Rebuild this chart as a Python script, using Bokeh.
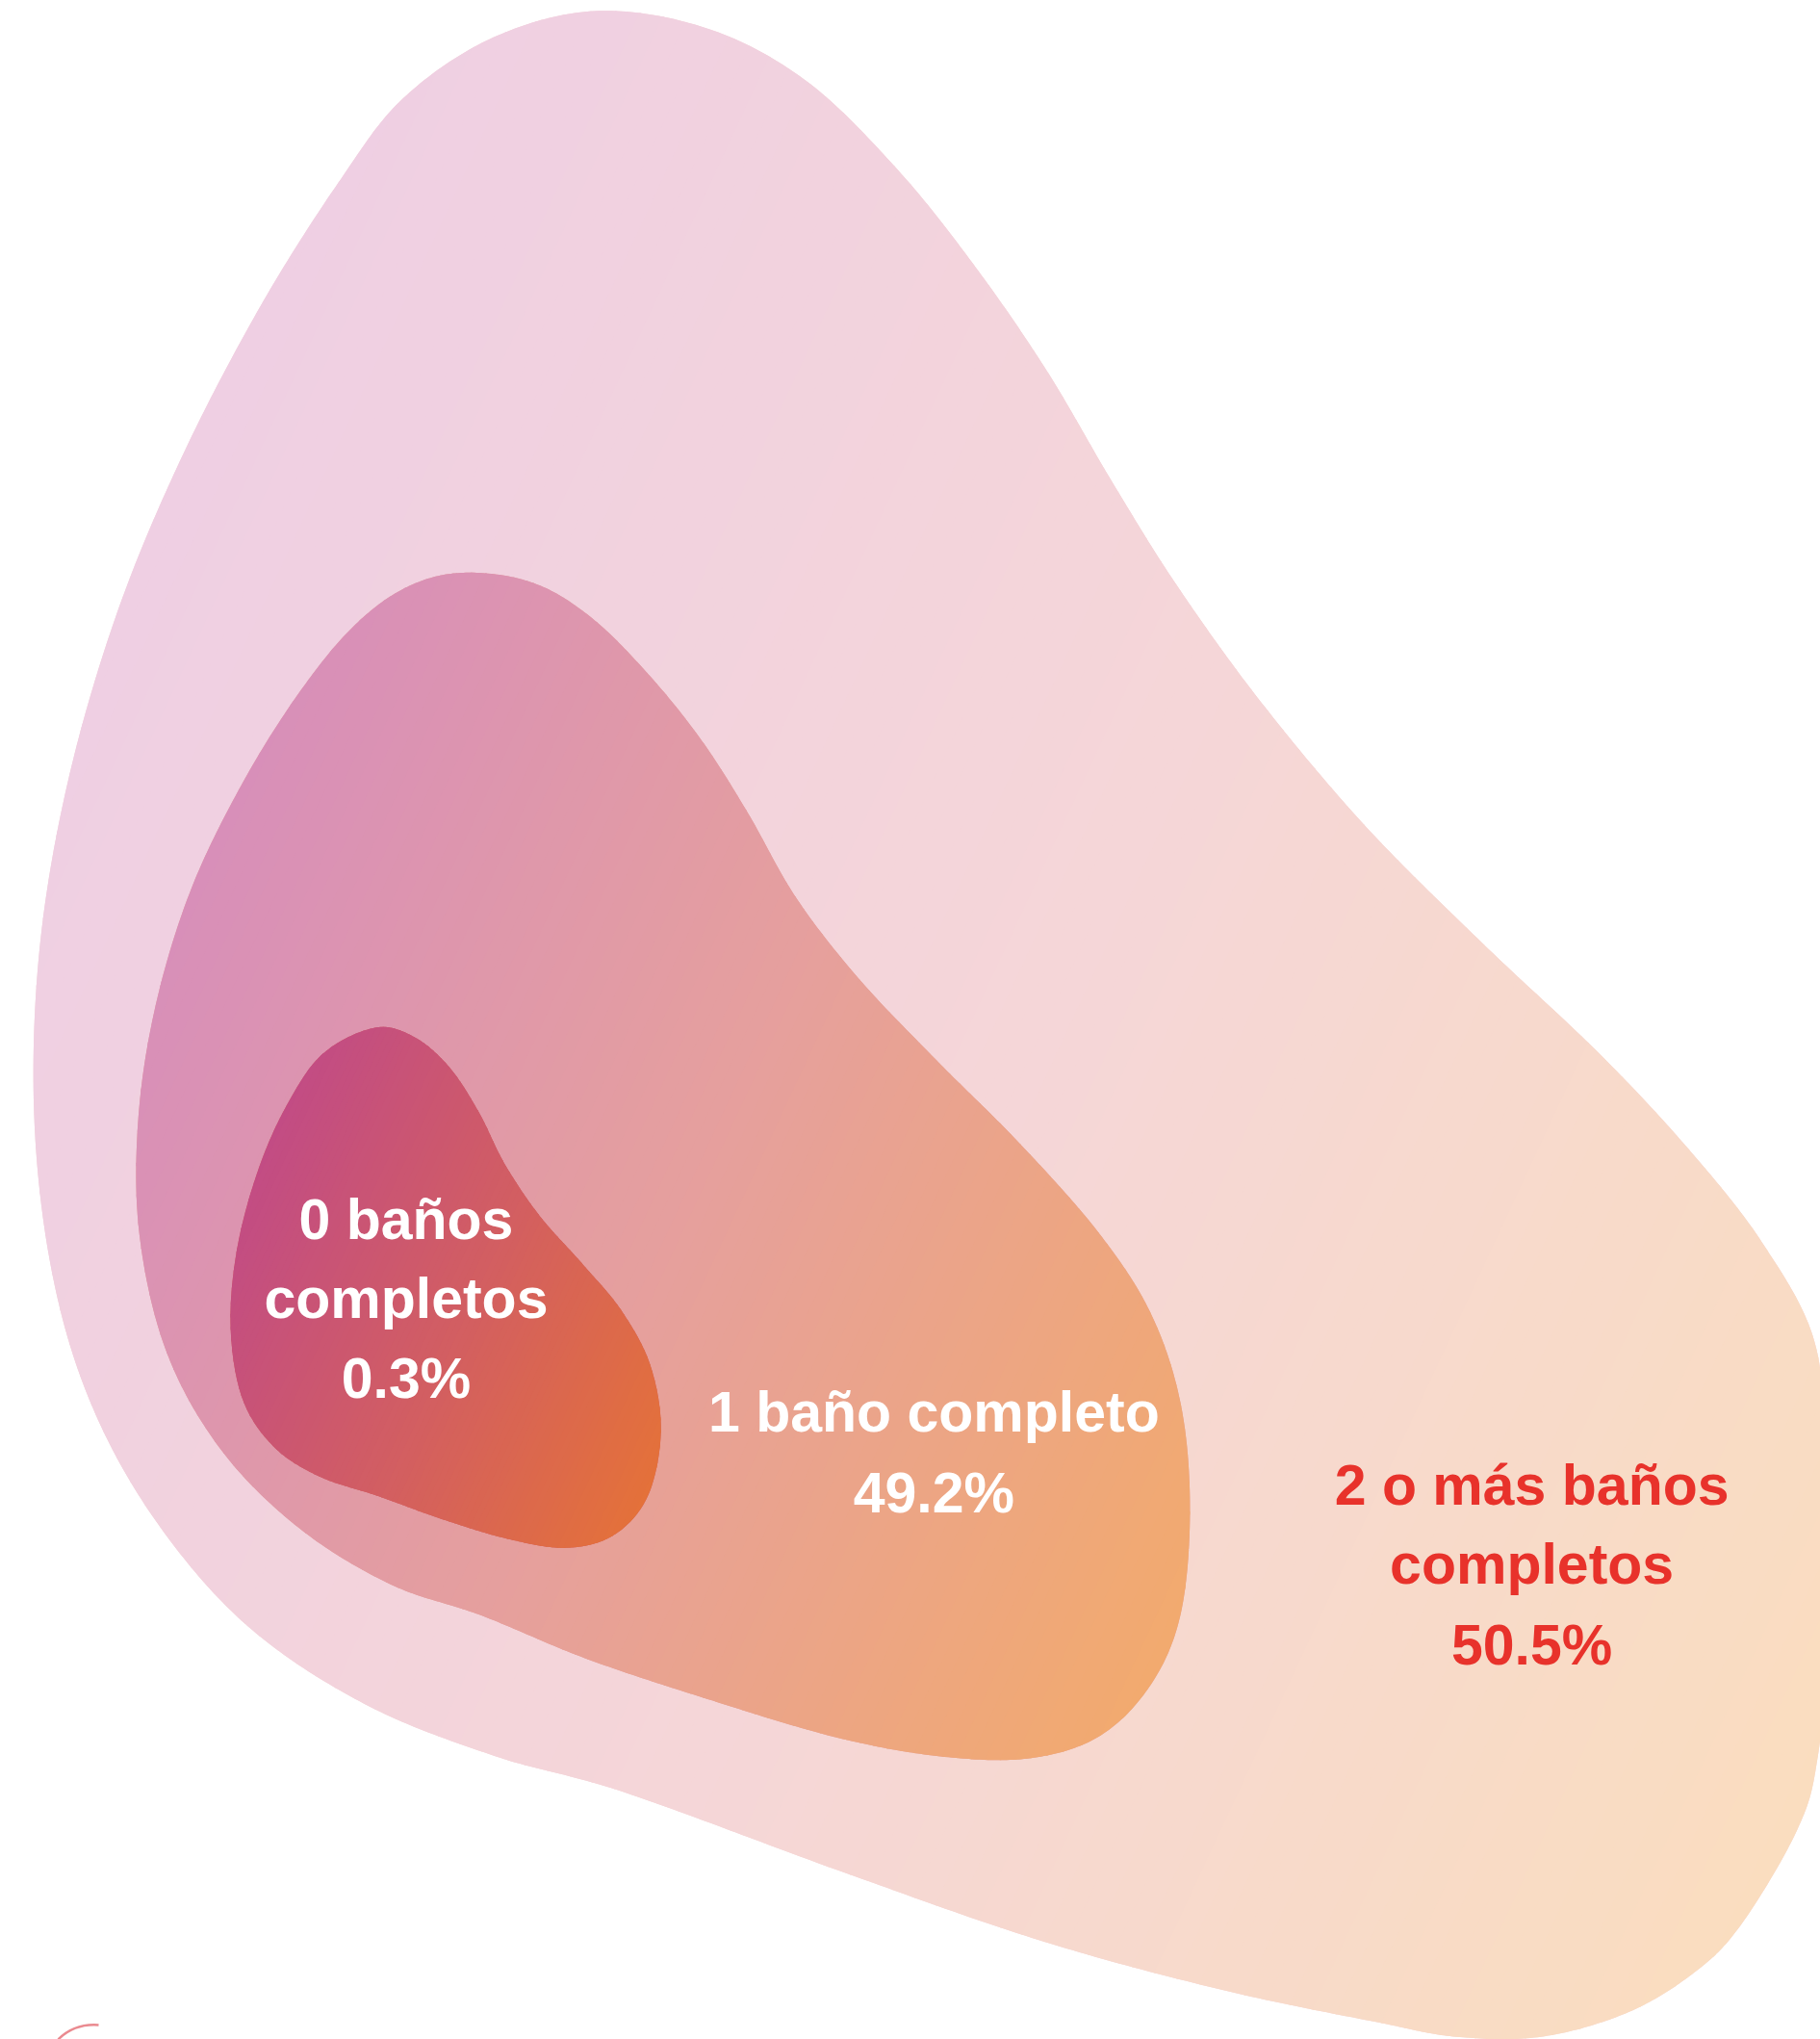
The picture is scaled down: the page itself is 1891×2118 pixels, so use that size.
import numpy as np
from bokeh.plotting import figure
from bokeh.models import Range1d, ColumnDataSource
from bokeh.core.properties import value
from bokeh.embed import file_html
from bokeh.resources import INLINE

# ---------------- data ----------------
categories = ["0 baños completos", "1 baño completo", "2 o más baños completos"]
shares = [0.3, 49.2, 50.5]
label_lines = [["0 baños", "completos"], ["1 baño completo"], ["2 o más baños", "completos"]]

# ---------------- shapes (outline control points, reference layout units) ----------------
S = 1891.0 / 1400.0
outer_pts = [(460, 8), (545, 22), (620, 62), (690, 130), (750, 205), (805, 285), (855, 370),
             (905, 450), (970, 540), (1050, 635), (1140, 725), (1230, 810), (1300, 885),
             (1355, 955), (1395, 1030), (1404, 1120), (1408, 1240), (1398, 1350), (1382, 1407),
             (1338, 1481), (1301, 1518), (1250, 1548), (1185, 1566), (1120, 1566), (1060, 1555),
             (940, 1530), (800, 1492), (650, 1440), (480, 1378), (380, 1350), (280, 1310),
             (190, 1250), (120, 1170), (70, 1080), (40, 980), (26, 860), (30, 730), (52, 600),
             (90, 470), (140, 350), (200, 235), (260, 140), (310, 75), (380, 28)]
middle_pts = [(358, 440), (410, 448), (455, 475), (500, 520), (540, 570), (575, 625), (612, 690),
              (660, 752), (720, 815), (785, 880), (845, 948), (885, 1010), (908, 1080), (915, 1160),
              (908, 1240), (885, 1295), (845, 1335), (790, 1352), (720, 1350), (640, 1335),
              (540, 1305), (450, 1275), (370, 1242), (300, 1218), (230, 1175), (170, 1115),
              (128, 1040), (107, 950), (106, 860), (120, 770), (148, 680), (190, 595), (235, 525),
              (275, 478), (315, 450)]
inner_pts = [(288, 790), (318, 797), (345, 820), (368, 855), (388, 895), (415, 935), (448, 972),
             (478, 1008), (500, 1050), (508, 1100), (498, 1150), (472, 1180), (435, 1190),
             (390, 1183), (340, 1168), (290, 1150), (245, 1135), (210, 1112), (186, 1075),
             (177, 1020), (182, 960), (198, 900), (220, 850), (248, 810)]

outer_stops = ["#EFCFE3", "#F5D6D8", "#FADDBF"]
middle_stops = ["#D88FB9", "#E6A09C", "#F2AA6E"]
inner_stops = ["#C24C84", "#D25E62", "#E4713A"]

label_pos = [(312, [938, 998, 1060]), (718, [1086, 1148]), (1178, [1142, 1203, 1265])]
label_colors = ["#FFFFFF", "#FFFFFF", "#E8322B"]


def smooth(points, n=24):
    P = np.array(points, float) * S
    N = len(P)
    t = np.linspace(0, 1, n, endpoint=False)[:, None]
    segs = []
    for i in range(N):
        p0, p1, p2, p3 = P[i - 1], P[i], P[(i + 1) % N], P[(i + 2) % N]
        segs.append(0.5 * (2 * p1 + (-p0 + p2) * t + (2 * p0 - 5 * p1 + 4 * p2 - p3) * t ** 2
                           + (-p0 + 3 * p1 - 3 * p2 + p3) * t ** 3))
    return np.vstack(segs)


def clip(poly, a, b, c):
    if len(poly) == 0:
        return poly
    f = poly @ np.array([a, b]) - c
    res = []
    n = len(poly)
    for i in range(n):
        P, Q = poly[i - 1], poly[i]
        fP, fQ = f[i - 1], f[i]
        if fQ <= 0:
            if fP > 0:
                res.append(P + (Q - P) * fP / (fP - fQ))
            res.append(Q)
        elif fP <= 0:
            res.append(P + (Q - P) * fP / (fP - fQ))
    return np.array(res)


def hex2rgb(h):
    h = h.lstrip("#")
    return [int(h[i:i + 2], 16) for i in (0, 2, 4)]


def interp_color(stops, f):
    pos = np.linspace(0, 1, len(stops))
    rgb = np.array([hex2rgb(s) for s in stops], float)
    c = [int(round(np.interp(f, pos, rgb[:, k]))) for k in range(3)]
    return "#%02x%02x%02x" % tuple(c)


def gradient_strips(poly, stops, angle_deg=25, nb=90):
    th = np.radians(angle_deg)
    dx, dy = np.cos(th), np.sin(th)
    t = poly @ np.array([dx, dy])
    tmin, tmax = t.min(), t.max()
    w = (tmax - tmin) / nb
    xs, ys, cols = [], [], []
    for k in range(nb):
        t0 = tmin + k * w
        t1 = t0 + w + 1.5
        piece = clip(poly, -dx, -dy, -t0)
        piece = clip(piece, dx, dy, t1)
        if len(piece) < 3:
            continue
        xs.append(piece[:, 0].tolist())
        ys.append(piece[:, 1].tolist())
        cols.append(interp_color(stops, (k + 0.5) / nb))
    return xs, ys, cols


W, H = 1891, 2118
p = figure(width=W, height=H, x_range=Range1d(0, W), y_range=Range1d(H, 0),
           output_backend="svg", toolbar_location=None, min_border=0)
p.axis.visible = False
p.grid.visible = False
p.outline_line_color = None
p.background_fill_color = "white"
p.border_fill_color = "white"

for pts, stops in [(outer_pts, outer_stops), (middle_pts, middle_stops), (inner_pts, inner_stops)]:
    poly = smooth(pts)
    p.patch(poly[:, 0], poly[:, 1], fill_color=stops[1], line_color=None)
    xs, ys, cols = gradient_strips(poly, stops)
    src = ColumnDataSource(dict(xs=xs, ys=ys, c=cols))
    p.patches("xs", "ys", source=src, fill_color="c", line_color=None)

# labels
tx, ty, tt, tc = [], [], [], []
for i, cat in enumerate(categories):
    lines = label_lines[i] + ["%.1f%%" % shares[i]]
    cx, cys = label_pos[i]
    for line, yy in zip(lines, cys):
        tx.append(cx * S)
        ty.append(yy * S)
        tt.append(line)
        tc.append(label_colors[i])
p.text(x="x", y="y", text="t", text_color="c",
       source=ColumnDataSource(dict(x=tx, y=ty, t=tt, c=tc)),
       text_font=value("Liberation Sans"), text_font_style="bold",
       text_font_size="59px", text_align="center", text_baseline="middle")

# small arc fragment at bottom-left
p.bezier(x0=[60], y0=[2118], x1=[102], y1=[2103], cx0=[72], cy0=[2106], cx1=[88], cy1=[2102],
         line_color="#EA8A90", line_width=2.5)

open("out.html", "w").write(file_html(p, INLINE))
